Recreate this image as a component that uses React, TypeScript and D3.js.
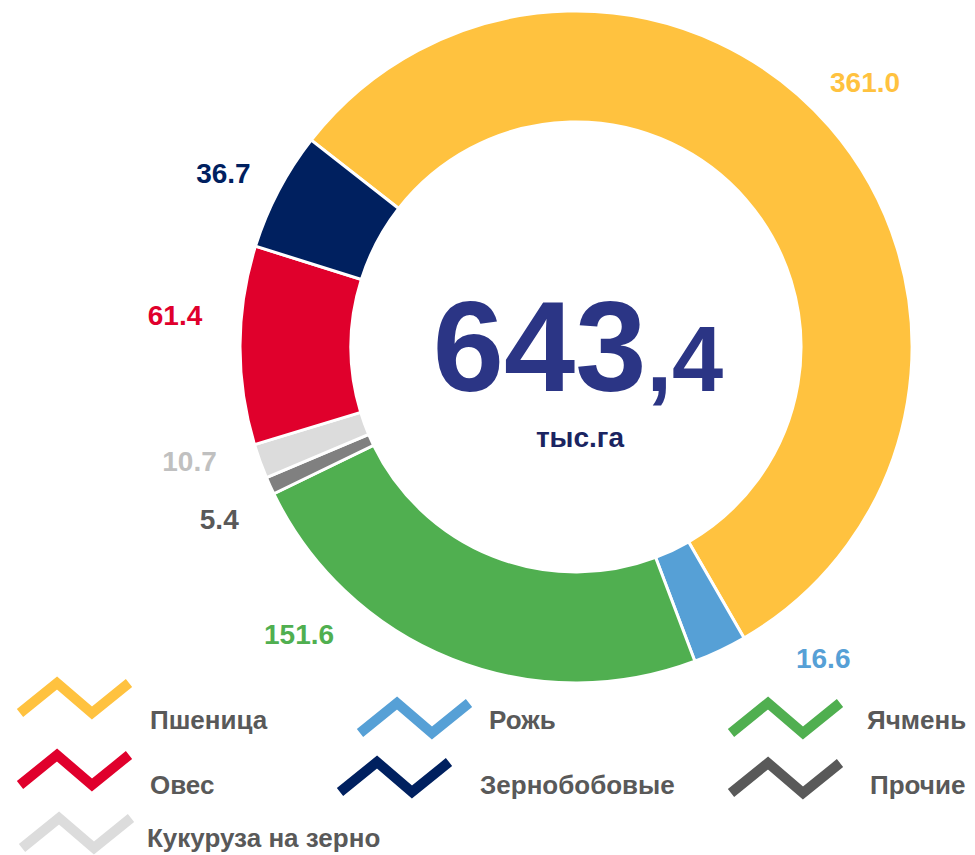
import React from 'react';
import * as d3 from 'd3';

const width = 975;
const height = 855;
const cx = 576;
const cy = 347;
const outerR = 336;
const innerR = 225;

// slices, clockwise from the upper left
const crops = ['Пшеница', 'Рожь', 'Ячмень', 'Прочие', 'Кукуруза на зерно', 'Овес', 'Зернобобовые'];
const areas = [361.0, 16.6, 151.6, 5.4, 10.7, 61.4, 36.7];
const sliceColors = ['#FFC23F', '#56A0D6', '#50AF50', '#808080', '#DCDCDC', '#E0002C', '#00205F'];
const labelColors = ['#FFC23F', '#56A0D6', '#50AF50', '#595959', '#C0C0C0', '#E0002C', '#00205F'];
const legendColors = ['#FFC23F', '#56A0D6', '#50AF50', '#595959', '#DCDCDC', '#E0002C', '#00205F'];

// legend order as it reads left to right
const legendOrder = ['Пшеница', 'Рожь', 'Ячмень', 'Овес', 'Зернобобовые', 'Прочие', 'Кукуруза на зерно'];

const totalText = '643';
const totalDecimal = ',4';
const unitText = 'тыс.га';

const font = '"Liberation Sans", Arial, sans-serif';

// label nudges from the radial spot (px)
const labelNudge: [number, number][] = [
    [-9, -6], [78, -46], [-131, -80], [3, 9], [-15, -20], [-6, -30], [-3, 10],
];

// legend slots: icon top-left and text x / centre y
const legendSlots = [
    { ix: 20, iy: 683, tx: 150, ty: 720 },
    { ix: 360, iy: 703, tx: 489, ty: 720 },
    { ix: 731, iy: 703, tx: 867, ty: 720 },
    { ix: 20, iy: 755, tx: 150, ty: 785 },
    { ix: 340, iy: 762, tx: 480, ty: 785 },
    { ix: 731, iy: 763, tx: 870, ty: 785 },
    { ix: 22, iy: 818, tx: 147, ty: 838 },
];

const startAngle = (-52 * Math.PI) / 180;

export default function App() {
    const pie = d3.pie<number>().sort(null).value(d => d)
        .startAngle(startAngle).endAngle(startAngle + 2 * Math.PI);
    const arcs = pie(areas);
    const arc = d3.arc<d3.PieArcDatum<number>>().innerRadius(innerR).outerRadius(outerR);
    const labelArc = d3.arc<d3.PieArcDatum<number>>().innerRadius(395).outerRadius(395);

    const zig = d3.line();
    const zigPoints: [number, number][] = [[0, 30], [37, 0], [72, 30], [109, 0]];

    return (
        <svg width={width} height={height} style={{ position: 'absolute', left: 0, top: 0, background: '#fff' }}>
            <g transform={`translate(${cx},${cy})`}>
                {arcs.map((a, i) => (
                    <path key={i} d={arc(a) || ''} fill={sliceColors[i]} stroke="#fff" strokeWidth={3} strokeLinejoin="miter" />
                ))}
                {arcs.map((a, i) => {
                    const [x, y] = labelArc.centroid(a);
                    return (
                        <text key={i} x={x + labelNudge[i][0]} y={y + labelNudge[i][1]} dy="0.36em"
                            textAnchor="middle" fontFamily={font} fontWeight="bold" fontSize={28} fill={labelColors[i]}>
                            {areas[i].toFixed(1)}
                        </text>
                    );
                })}
                <text x={2} y={44} textAnchor="middle" fontFamily={font} fontWeight="bold" fill="#2B3585">
                    <tspan fontSize={128}>{totalText}</tspan>
                    <tspan fontSize={92}>{totalDecimal}</tspan>
                </text>
                <text x={4} y={100} textAnchor="middle" fontFamily={font} fontWeight="bold" fontSize={28} fill="#1A2461">
                    {unitText}
                </text>
            </g>

            {legendOrder.map((name, k) => {
                const i = crops.indexOf(name);
                const s = legendSlots[k];
                return (
                    <g key={name}>
                        <path d={zig(zigPoints.map(([px, py]) => [s.ix + px, s.iy + py] as [number, number])) || ''}
                            fill="none" stroke={legendColors[i]} strokeWidth={10} strokeLinejoin="miter" />
                        <text x={s.tx} y={s.ty} dy="0.36em" fontFamily={font} fontWeight="bold" fontSize={26} fill="#595959">
                            {name}
                        </text>
                    </g>
                );
            })}
        </svg>
    );
}
